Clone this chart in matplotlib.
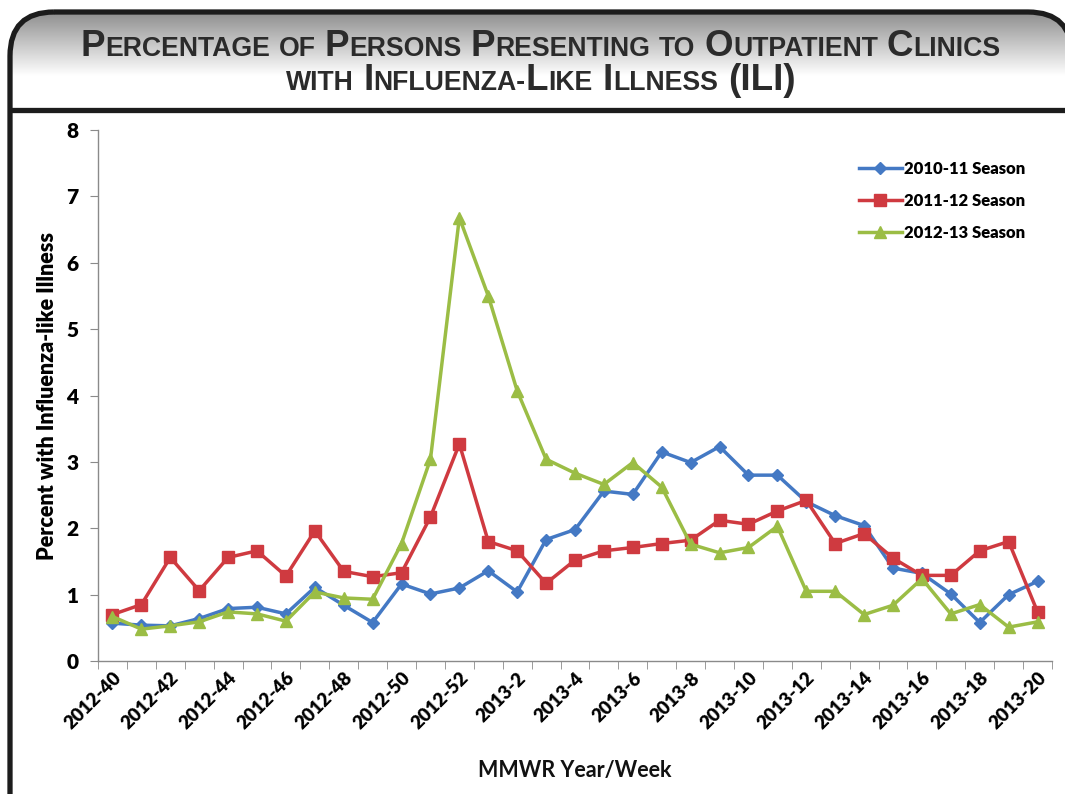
import numpy as np
import matplotlib
matplotlib.use("Agg")
import matplotlib.pyplot as plt
from matplotlib.patches import FancyBboxPatch

# MMWR weeks, 2012-40 through 2013-20
weeks = ([f"2012-{w}" for w in range(40, 53)] +
         [f"2013-{w}" for w in range(1, 21)])

season_2010_11 = [0.57, 0.54, 0.53, 0.64, 0.79, 0.81, 0.71, 1.11, 0.84, 0.58,
                  1.16, 1.01, 1.10, 1.36, 1.04, 1.83, 1.98, 2.56, 2.51, 3.15,
                  2.99, 3.23, 2.80, 2.80, 2.40, 2.19, 2.04, 1.40, 1.32, 1.01,
                  0.58, 1.00, 1.20]
season_2011_12 = [0.70, 0.85, 1.56, 1.06, 1.56, 1.66, 1.28, 1.96, 1.35, 1.27,
                  1.33, 2.17, 3.27, 1.80, 1.66, 1.17, 1.52, 1.66, 1.71, 1.77,
                  1.82, 2.12, 2.06, 2.26, 2.42, 1.77, 1.92, 1.55, 1.29, 1.29,
                  1.66, 1.80, 0.74]
season_2012_13 = [0.67, 0.48, 0.53, 0.59, 0.74, 0.71, 0.60, 1.04, 0.95, 0.93,
                  1.77, 3.04, 6.68, 5.50, 4.07, 3.04, 2.83, 2.66, 2.99, 2.62,
                  1.76, 1.63, 1.71, 2.03, 1.05, 1.05, 0.70, 0.84, 1.24, 0.71,
                  0.85, 0.51, 0.59]

series = [
    ("2010-11 Season", season_2010_11, "#4479c4", "D", 6),
    ("2011-12 Season", season_2011_12, "#cf3a40", "s", 8),
    ("2012-13 Season", season_2012_13, "#9bbd45", "^", 8.5),
]

# small-caps title: (text, is_big) parts per word
title_lines = [
    [[("P", True), ("ERCENTAGE", False)], [("OF", False)],
     [("P", True), ("ERSONS", False)], [("P", True), ("RESENTING", False)],
     [("TO", False)], [("O", True), ("UTPATIENT", False)],
     [("C", True), ("LINICS", False)]],
    [[("WITH", False)],
     [("I", True), ("NFLUENZA-", False), ("L", True), ("IKE", False)],
     [("I", True), ("LLNESS", False)], [("(ILI)", True)]],
]

W, H = 1065, 794
fig = plt.figure(figsize=(W / 100, H / 100), dpi=100)
fig.patch.set_facecolor("white")

# background frame (pixel coordinates)
bg = fig.add_axes([0, 0, 1, 1], zorder=0)
bg.set_xlim(0, W)
bg.set_ylim(H, 0)
bg.axis("off")

frame = FancyBboxPatch((10, 12), 1062, 2000,
                       boxstyle="round,pad=0,rounding_size=44",
                       facecolor="none", edgecolor="#1c1c1c", lw=3.8, zorder=3)
bg.add_patch(frame)

grad = np.ones((100, 1, 3))
t = np.clip(np.linspace(0, 1, 100) / 0.65, 0, 1)
shade = 0.56 + (1.0 - 0.56) * t
grad[:, 0, :] = shade[:, None]
im = bg.imshow(grad, extent=(10, 1072, 110, 12), origin="upper",
               aspect="auto", zorder=1, interpolation="bilinear")
im.set_clip_path(frame)
bg.plot([10, 1065], [110, 110], color="#1c1c1c", lw=3.8, zorder=4,
        solid_capstyle="butt")

title_font = ["Liberation Sans Narrow", "Liberation Sans", "DejaVu Sans"]
big_size, small_size = 26.5, 19.2
renderer = fig.canvas.get_renderer()
for line, base_y, gap in zip(title_lines, [56, 90], [9, 10]):
    placed = []
    for word in line:
        parts = []
        for txt, is_big in word:
            t_obj = bg.text(0, base_y, txt, family=title_font, weight="bold",
                            fontsize=big_size if is_big else small_size,
                            color="#2b2b2b", va="baseline", ha="left", zorder=5)
            w = t_obj.get_window_extent(renderer).width
            parts.append((t_obj, w))
        placed.append(parts)
    total = sum(w for p in placed for _, w in p) + gap * (len(placed) - 1)
    x = W / 2 + 8 - total / 2
    for parts in placed:
        for t_obj, w in parts:
            t_obj.set_x(x)
            x += w
        x += gap

# main chart
ax = fig.add_axes([98 / W, 1 - 661 / H, (1052 - 98) / W, (661 - 130) / H],
                  zorder=2)
ax.set_facecolor("white")
xs = np.arange(len(weeks))
for name, vals, color, marker, ms in series:
    ax.plot(xs, vals, color=color, lw=2.5, marker=marker, ms=ms,
            mfc=color, mec=color, label=name)

ax.set_xlim(-0.5, len(weeks) - 0.5)
ax.set_ylim(0, 8)
ax.set_yticks(range(0, 9))
ax.set_xticks(xs[::2])
ax.set_xticklabels(weeks[::2], rotation=45, ha="right",
                   rotation_mode="anchor")
ax.set_xticks(np.arange(-0.5, len(weeks), 1), minor=True)

for s in ["top", "right"]:
    ax.spines[s].set_visible(False)
for s in ["left", "bottom"]:
    ax.spines[s].set_color("#8a8a8a")
    ax.spines[s].set_linewidth(1)

label_font = ["Lato", "DejaVu Sans"]
ax.tick_params(axis="x", which="major", length=0, pad=6)
ax.tick_params(axis="x", which="minor", length=6, color="#8a8a8a",
               direction="out")
ax.tick_params(axis="y", length=6, color="#8a8a8a", direction="out", pad=8)
for lab in ax.get_xticklabels():
    lab.set_fontfamily(label_font)
    lab.set_fontweight("heavy")
    lab.set_fontsize(13.5)
for lab in ax.get_yticklabels():
    lab.set_fontfamily(label_font)
    lab.set_fontweight("heavy")
    lab.set_fontsize(15)

ax.set_ylabel("Percent with Influenza-like Illness", family=label_font,
              weight="heavy", fontsize=15.5, labelpad=6)
ax.set_xlabel("MMWR Year/Week", family=label_font, weight="bold",
              fontsize=15.5, color="#111111", labelpad=20)

leg = ax.legend(loc="upper right", bbox_to_anchor=(1040 / W, 1 - 146 / H),
                bbox_transform=fig.transFigure, frameon=False,
                handlelength=2.6, handletextpad=0.1, labelspacing=0.95,
                prop={"family": label_font, "weight": "heavy", "size": 12})

fig.savefig("out.png", dpi=100)
